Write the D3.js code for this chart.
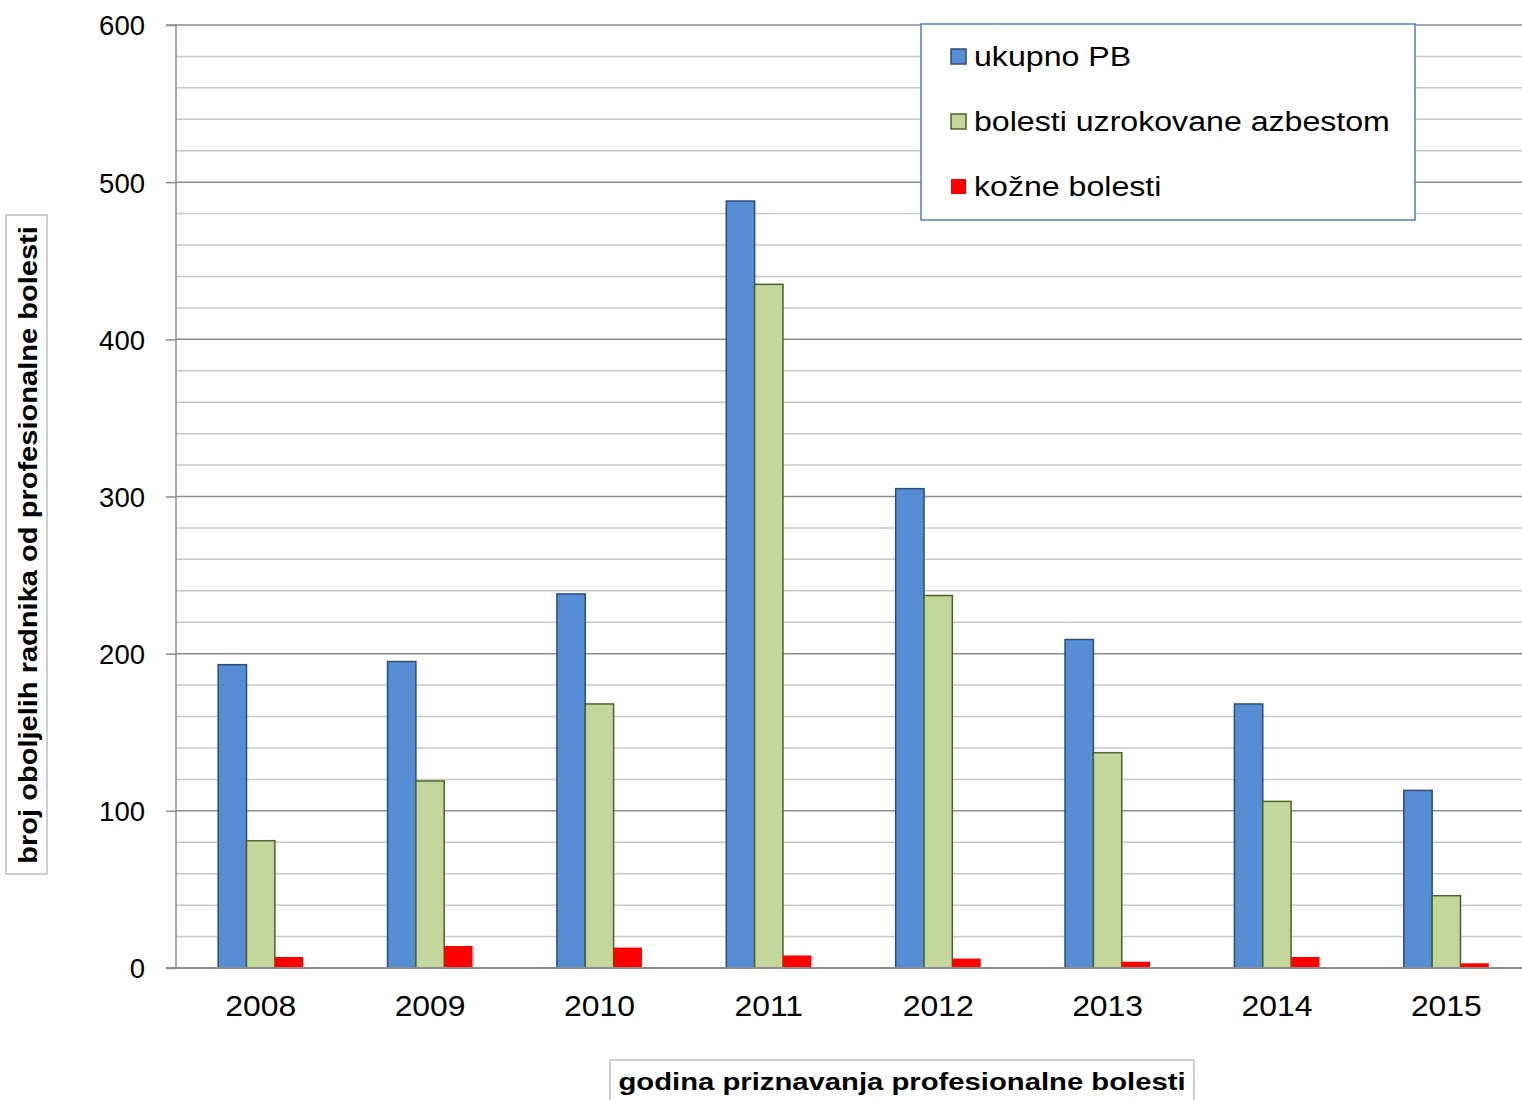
<!DOCTYPE html>
<html><head><meta charset="utf-8">
<script src="https://cdn.jsdelivr.net/npm/d3@7"></script>
<style>body{margin:0;background:#fff}svg{display:block}text{font-family:"Liberation Sans",Arial,sans-serif}</style>
</head><body><svg id="c" width="1522" height="1100"></svg>
<script>
const years = ["2008","2009","2010","2011","2012","2013","2014","2015"];
const ukupnoPB = [193,195,238,488,305,209,168,113];
const azbest = [81,119,168,435,237,137,106,46];
const kozne = [7,14,13,8,6,4,7,3];
const seriesNames = ["ukupno PB","bolesti uzrokovane azbestom","kožne bolesti"];
const yTicks = [0,100,200,300,400,500,600];

const fills = ["#558ed5","#c3d69b","#ff0000"];
const strokes = ["#2c4d75","#4f6228","none"];
const series = [ukupnoPB, azbest, kozne];

const svg = d3.select("#c");
const L=176, R=1522, RS=1531, T=25, B=968;
const x = d3.scaleBand().domain(years).range([L,RS]).paddingInner(0.498).paddingOuter(0.249);
const xs = d3.scaleBand().domain([0,1,2]).range([0,x.bandwidth()]);
const y = d3.scaleLinear().domain([0,600]).range([B,T]);

// grid
const minor = d3.range(20,601,20).filter(v=>v%100!==0);
svg.append("g").selectAll("line").data(minor).join("line")
 .attr("x1",L).attr("x2",R).attr("y1",d=>y(d)).attr("y2",d=>y(d))
 .attr("stroke","#c8c8c8").attr("stroke-width",1.5);
svg.append("g").selectAll("line").data(yTicks.filter(v=>v>0)).join("line")
 .attr("x1",L).attr("x2",R).attr("y1",d=>y(d)).attr("y2",d=>y(d))
 .attr("stroke","#8c8c8c").attr("stroke-width",1.5);

// y axis
const ya = svg.append("g").attr("transform",`translate(${L},0)`)
 .call(d3.axisLeft(y).tickValues(yTicks).tickSize(10).tickPadding(8));
ya.select(".domain").attr("stroke","#8c8c8c").attr("stroke-width",1.5).attr("d",`M-10,${T}H0V${B}`);
ya.selectAll(".tick line").attr("stroke","#8c8c8c").attr("stroke-width",1.5);
ya.selectAll(".tick text").attr("font-size",27.5).attr("fill","#000").attr("dy","0.36em").attr("x",-31);

// bars
series.forEach((s,i)=>{
  svg.append("g").selectAll("rect").data(s).join("rect")
   .attr("x",(d,j)=>x(years[j])+xs(i))
   .attr("y",d=>y(d))
   .attr("width",xs.bandwidth())
   .attr("height",d=>B-y(d))
   .attr("fill",fills[i])
   .attr("stroke",strokes[i]).attr("stroke-width",1.5);
});

// x axis
const xa = svg.append("g").attr("transform",`translate(0,${B})`)
 .call(d3.axisBottom(x).tickSize(0).tickPadding(27));
xa.select(".domain").attr("stroke","#8c8c8c").attr("stroke-width",2).attr("d",`M166,0H${R}`);
xa.selectAll(".tick text").attr("font-size",29.5).attr("fill","#000").attr("dy","0.71em")
 .attr("transform","scale(1.08,1)");

// y title
svg.append("rect").attr("x",6).attr("y",215).attr("width",41).attr("height",659)
 .attr("fill","none").attr("stroke","#bfbfbf").attr("stroke-width",1.5);
svg.append("text").attr("transform","translate(37,545) rotate(-90) scale(1.14,1)")
 .attr("text-anchor","middle").attr("font-size",25.5).attr("font-weight","bold")
 .text("broj oboljelih radnika od profesionalne bolesti");

// x title
svg.append("rect").attr("x",610).attr("y",1060).attr("width",584).attr("height",60)
 .attr("fill","none").attr("stroke","#bfbfbf").attr("stroke-width",1.5);
svg.append("text").attr("transform","translate(902,1090) scale(1.18,1)").attr("text-anchor","middle")
 .attr("font-size",24.8).attr("font-weight","bold")
 .text("godina priznavanja profesionalne bolesti");

// legend
const lg = svg.append("g");
lg.append("rect").attr("x",921).attr("y",24).attr("width",494).attr("height",196)
 .attr("fill","#fff").attr("stroke","#4f81bd").attr("stroke-width",1.5);
const rows=[57,122,187];
seriesNames.forEach((n,i)=>{
  lg.append("rect").attr("x",951).attr("y",rows[i]-8).attr("width",15).attr("height",15)
   .attr("fill",fills[i]).attr("stroke",i<2?strokes[i]:"none").attr("stroke-width",1.5);
  lg.append("text").attr("transform",`translate(974,${rows[i]}) scale(1.19,1)`)
   .attr("dy","0.35em").attr("font-size",27).text(n);
});
</script></body></html>
